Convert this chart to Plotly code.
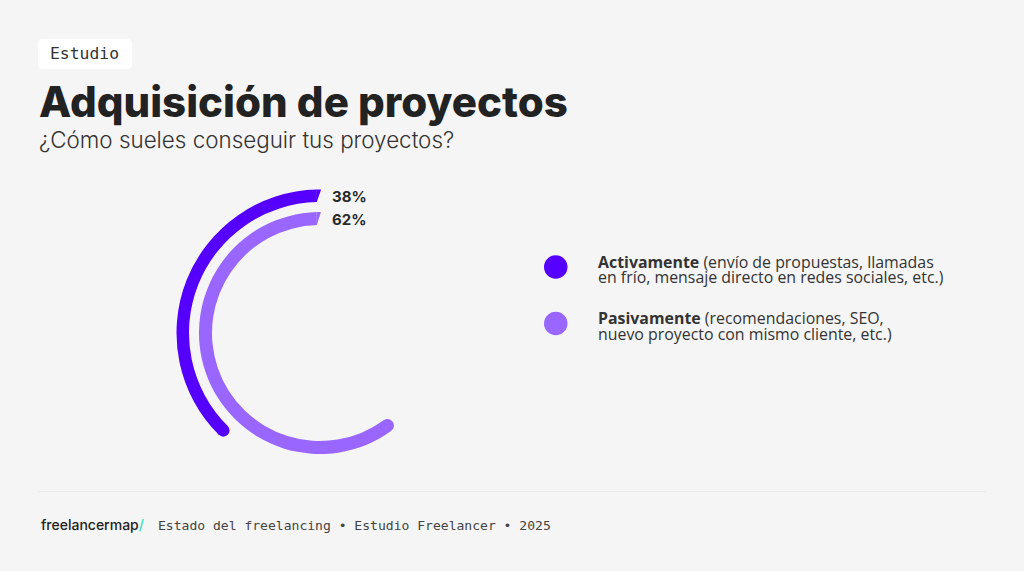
# -*- coding: utf-8 -*-
import plotly.graph_objects as go

categorias = ["Activamente", "Pasivamente"]
detalle_1 = [" (envío de propuestas, llamadas", " (recomendaciones, SEO,"]
detalle_2 = ["en frío, mensaje directo en redes sociales, etc.)", "nuevo proyecto con mismo cliente, etc.)"]
porcentajes = [38, 62]
# lo que barre cada arco en la imagen, en grados desde arriba
arcos_grados = [135.2, 216.1]
colores = ["#5500ff", "#9966ff"]

radio_int = [131, 108]
radio_ext = [143.5, 121]
sesgo_grados = [1.3, 1.6]

W = 1024
H = 571
CX = 320
CY = 333
R = 150


def px(x):
    return x / W


def py(y):
    return 1 - y / H


fig = go.Figure()

for i in range(len(categorias)):
    ini = sesgo_grados[i]
    fin = arcos_grados[i]
    fig.add_trace(go.Barpolar(
        r=[radio_ext[i] - radio_int[i]], base=[radio_int[i]],
        theta=[(ini + fin) / 2], width=[fin - ini],
        marker=dict(color=colores[i], line=dict(width=0)),
        hoverinfo="skip", showlegend=False,
    ))
    # final redondeado
    fig.add_trace(go.Scatterpolar(
        r=[(radio_int[i] + radio_ext[i]) / 2], theta=[fin], mode="markers",
        marker=dict(color=colores[i], size=radio_ext[i] - radio_int[i], line=dict(width=0)),
        hoverinfo="skip", showlegend=False,
    ))
    # inicio cortado en diagonal
    fig.add_trace(go.Scatterpolar(
        r=[radio_ext[i], radio_ext[i], radio_int[i], radio_ext[i]],
        theta=[-0.45, ini + 0.1, ini + 0.1, -0.45],
        mode="lines", fill="toself", fillcolor=colores[i], line=dict(width=0),
        hoverinfo="skip", showlegend=False,
    ))

fig.update_layout(
    width=W, height=H, margin=dict(l=0, r=0, t=0, b=0),
    paper_bgcolor="#f5f5f5", plot_bgcolor="#f5f5f5",
    polar=dict(
        domain=dict(x=[px(CX - R), px(CX + R)], y=[py(CY + R), py(CY - R)]),
        bgcolor="rgba(0,0,0,0)",
        radialaxis=dict(visible=False, range=[0, R]),
        angularaxis=dict(visible=False, rotation=90, direction="counterclockwise"),
    ),
)

shapes = [
    dict(type="path", xref="paper", yref="paper", layer="below", line=dict(width=0), fillcolor="#ffffff",
         path="M %f %f L %f %f Q %f %f %f %f L %f %f Q %f %f %f %f L %f %f Q %f %f %f %f L %f %f Q %f %f %f %f Z" % (
             px(43), py(39), px(127), py(39), px(132), py(39), px(132), py(44),
             px(132), py(64), px(132), py(69), px(127), py(69),
             px(43), py(69), px(38), py(69), px(38), py(64),
             px(38), py(44), px(38), py(39), px(43), py(39))),
    dict(type="line", xref="paper", yref="paper", x0=px(38.5), x1=px(985.5), y0=py(491.5), y1=py(491.5),
         line=dict(color="#e9e9e9", width=1)),
]
dots_y = [267, 323.5]
for i in range(len(categorias)):
    shapes.append(dict(type="circle", xref="paper", yref="paper", line=dict(width=0), fillcolor=colores[i],
                       x0=px(544), x1=px(567.5), y0=py(dots_y[i] - 11.75), y1=py(dots_y[i] + 11.75)))
fig.update_layout(shapes=shapes)


def texto(x, y, t, fuente, size, color="#222222", weight=None):
    fig.add_annotation(x=px(x), y=py(y), xref="paper", yref="paper", text=t, showarrow=False,
                       xanchor="left", yanchor="middle", align="left", borderpad=0,
                       font=dict(family=fuente, size=size, color=color, weight=weight))


MONO = "DejaVu Sans Mono"
SANS = "Open Sans"

texto(48.5, 54, "Estudio", MONO, 16.4, "#333333")
texto(37.5, 101, "Adquisición de proyectos", "Inter", 42, "#222222", 800)
texto(38, 140, "¿Cómo sueles conseguir tus proyectos?", "Inter", 22.4, "#333333", 300)

texto(331, 196.5, "%d%%" % porcentajes[0], "Inter", 15, "#2a2a2a", 700)
texto(331, 219.5, "%d%%" % porcentajes[1], "Inter", 15, "#2a2a2a", 700)

filas_y = [[261.5, 277.5], [318, 334]]
for i in range(len(categorias)):
    texto(596.5, filas_y[i][0], "<b>%s</b>%s" % (categorias[i], detalle_1[i]), SANS, 15.9, "#333333")
    texto(596.5, filas_y[i][1], detalle_2[i], SANS, 15.9, "#333333")

texto(39.5, 524.5, 'freelancermap<span style="color:#1fe6bd">/</span>', "Inter", 14, "#222222", 500)
texto(156.5, 525, "Estado del freelancing • Estudio Freelancer • 2025", MONO, 13.05, "#444444")

fig.write_html("out.html", config={"displayModeBar": False},
               post_script="document.body.style.margin='0';document.documentElement.style.overflow='hidden';")
